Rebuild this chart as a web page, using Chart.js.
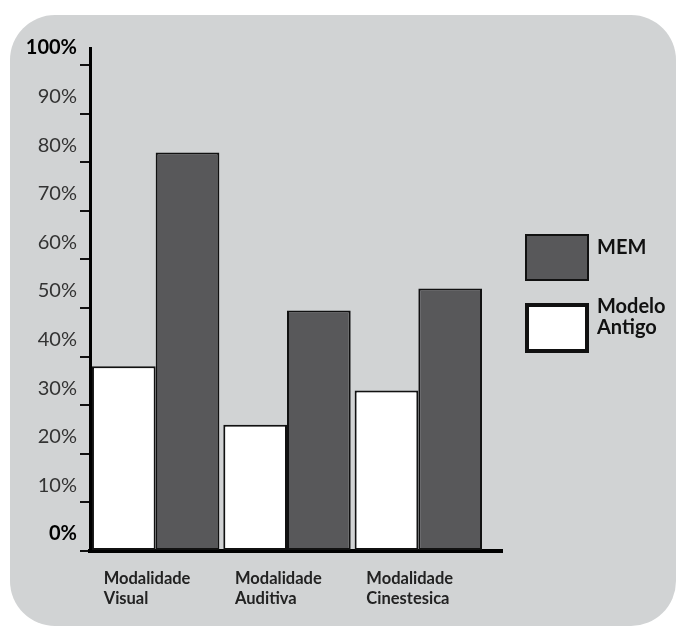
<!DOCTYPE html>
<html>
<head>
<meta charset="utf-8">
<script src="https://cdn.jsdelivr.net/npm/chart.js@4"></script>
<style>
  html, body { margin: 0; padding: 0; background: #ffffff; }
  #wrap { position: relative; width: 679px; height: 628px; overflow: hidden; }
  #panel { position: absolute; left: 10px; top: 15px; width: 666px; height: 611px; border-radius: 45px; background: #d1d3d4; }
  #c { position: absolute; left: 0; top: 0; }
</style>
</head>
<body>
<div id="wrap">
  <div id="panel"></div>
  <canvas id="c" width="679" height="628"></canvas>
</div>
<script>
const categories = [["Modalidade", "Visual"], ["Modalidade", "Auditiva"], ["Modalidade", "Cinestesica"]];
const seriesNames = ["Modelo Antigo", "MEM"];
const modeloAntigo = [38, 26, 33];
const mem = [82, 49.5, 54];
const yTicks = [0, 10, 20, 30, 40, 50, 60, 70, 80, 90, 100];

const axisExtend = {
  id: 'axisExtend',
  afterDraw(chart) {
    const ctx = chart.ctx;
    const xs = chart.scales.x;
    const y0 = chart.scales.y.getPixelForValue(0);
    ctx.save();
    ctx.strokeStyle = '#000';
    ctx.lineWidth = 4;
    ctx.beginPath();
    ctx.moveTo(xs.right - 2, y0);
    ctx.lineTo(xs.right + 19, y0);
    ctx.stroke();
    ctx.restore();
  }
};

// Legend drawn from the datasets (MEM first, then Modelo Antigo)
const sideLegend = {
  id: 'sideLegend',
  afterDraw(chart) {
    const ctx = chart.ctx;
    const ca = chart.chartArea;
    const x = ca.right + 41;
    const boxes = [
      { top: ca.top + 186, h: 47, lw: 2 },
      { top: ca.top + 255, h: 50, lw: 4 }
    ];
    const order = chart.data.datasets.map((d, i) => i).reverse();
    ctx.save();
    order.forEach((di, k) => {
      const ds = chart.data.datasets[di];
      const b = boxes[k];
      const lw = b.lw;
      ctx.fillStyle = ds.backgroundColor;
      ctx.strokeStyle = '#111111';
      ctx.lineWidth = lw;
      ctx.fillRect(x + lw / 2, b.top + lw / 2, 64 - lw, b.h - lw);
      ctx.strokeRect(x + lw / 2, b.top + lw / 2, 64 - lw, b.h - lw);
      ctx.fillStyle = '#111111';
      ctx.font = 'bold 20px Lato';
      ctx.textAlign = 'left';
      ctx.textBaseline = 'middle';
      const lines = ds.label.split(' ');
      const lh = 21;
      const startY = lines.length > 1 ? b.top + 4 : b.top + 14;
      lines.forEach((ln, j) => ctx.fillText(ln, x + 72, startY + j * lh));
    });
    ctx.restore();
  }
};

new Chart(document.getElementById('c'), {
  type: 'bar',
  data: {
    labels: categories,
    datasets: [
      { label: seriesNames[0], data: modeloAntigo, backgroundColor: '#ffffff', borderColor: '#111111', borderWidth: 2, borderSkipped: false },
      { label: seriesNames[1], data: mem, backgroundColor: '#58585a', borderColor: '#111111', borderWidth: 2, borderSkipped: false }
    ]
  },
  options: {
    responsive: false,
    animation: false,
    devicePixelRatio: 1,
    categoryPercentage: 0.97,
    barPercentage: 1,
    layout: { padding: { top: 48, left: 0, right: 195, bottom: 0 } },
    plugins: {
      tooltip: { enabled: false },
      legend: { display: false }
    },
    scales: {
      x: {
        grid: { display: false, drawTicks: false },
        border: { display: true, color: '#000000', width: 4 },
        ticks: {
          align: 'start',
          labelOffset: -52,
          padding: 18,
          color: '#222222',
          maxRotation: 0,
          autoSkip: false,
          font: { family: 'Lato', weight: 'bold', size: 16.5, lineHeight: 1.2 }
        },
        afterFit(s) { s.height = 77; }
      },
      y: {
        min: 0,
        max: 103.5,
        afterBuildTicks(s) { s.ticks = yTicks.map(v => ({ value: v })); },
        grid: { display: true, drawOnChartArea: false, drawTicks: true, tickLength: 10, color: '#111111', lineWidth: 2 },
        border: { display: true, color: '#000000', width: 3 },
        ticks: {
          labelOffset: -17,
          padding: 3,
          color: ctx => (ctx.tick.value === 0 || ctx.tick.value === 100) ? '#000000' : '#333333',
          font: ctx => (ctx.tick && (ctx.tick.value === 0 || ctx.tick.value === 100))
            ? { family: 'Lato', weight: 'bold', size: 20 }
            : { family: 'Lato', weight: 'normal', size: 20 },
          callback: v => v + '%'
        },
        afterFit(s) { s.width = 90; }
      }
    }
  },
  plugins: [axisExtend, sideLegend]
});
</script>
</body>
</html>
